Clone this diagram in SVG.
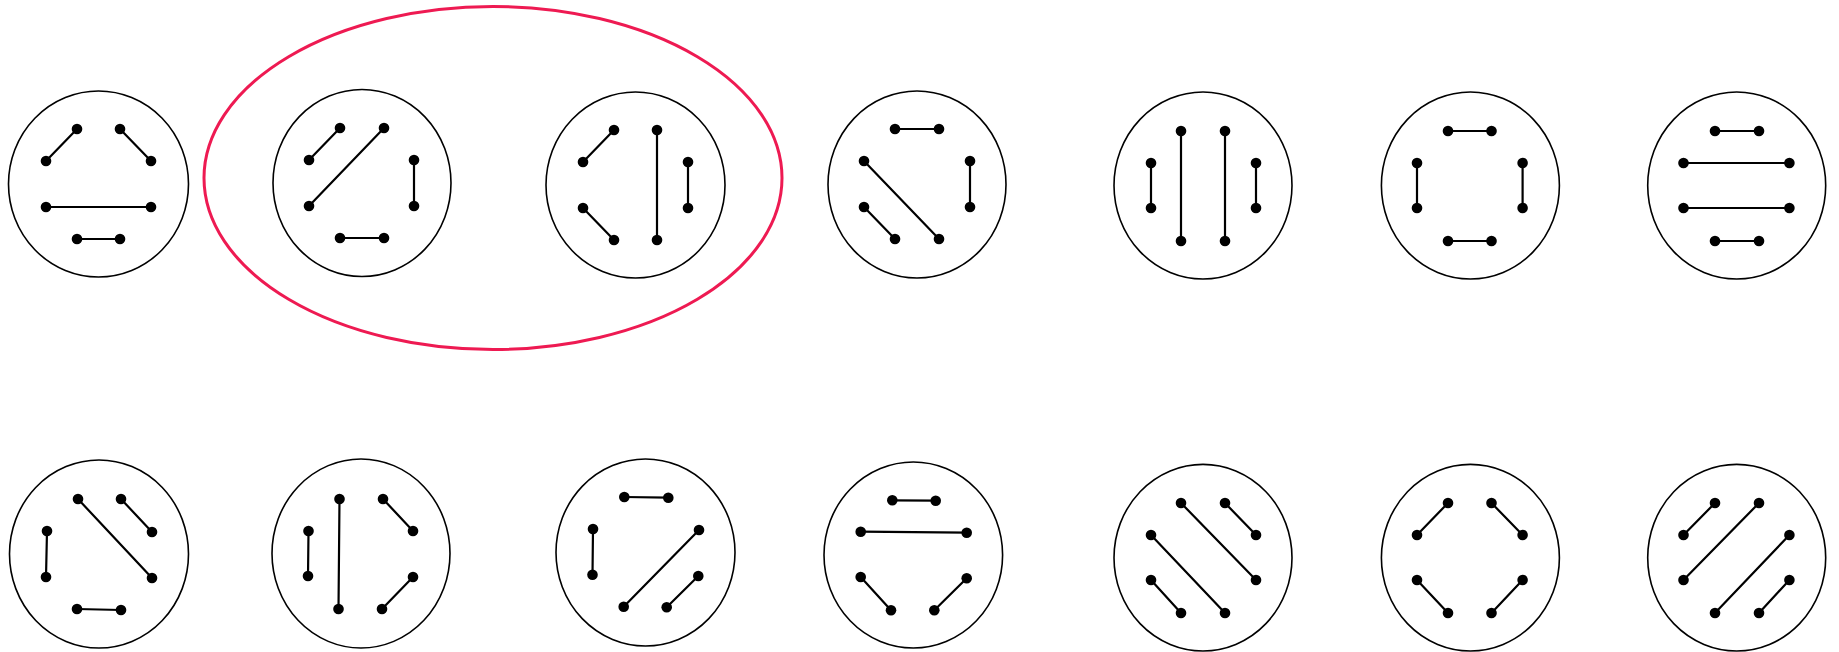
<svg xmlns="http://www.w3.org/2000/svg" width="1839" height="652" viewBox="0 0 1839 652">
<style>
.c{fill:none;stroke:#000;stroke-width:1.6}
.e{stroke:#000;stroke-width:2.2;stroke-linecap:round}
.d{fill:#000}
.g{fill:none;stroke:#ee1a52;stroke-width:3}
</style>
<rect width="1839" height="652" fill="#fff"/>
<g id="group-outline"><ellipse class="g" cx="493" cy="178" rx="289" ry="171.5"/></g>

<g id="n1">
<ellipse class="c" cx="98.5" cy="184" rx="90" ry="93"/>
<g class="connectors">
<line class="e" x1="46" y1="161" x2="77" y2="129"/><line class="e" x1="120" y1="129" x2="151" y2="161"/><line class="e" x1="46" y1="207" x2="151" y2="207"/><line class="e" x1="77" y1="239" x2="120" y2="239"/>
</g>
<g class="d"><circle cx="77" cy="129" r="5.3"/><circle cx="120" cy="129" r="5.3"/><circle cx="46" cy="161" r="5.3"/><circle cx="151" cy="161" r="5.3"/><circle cx="46" cy="207" r="5.3"/><circle cx="151" cy="207" r="5.3"/><circle cx="77" cy="239" r="5.3"/><circle cx="120" cy="239" r="5.3"/></g>
</g>

<g id="n2">
<ellipse class="c" cx="362" cy="183" rx="89" ry="93.5"/>
<g class="connectors">
<line class="e" x1="309" y1="160" x2="340" y2="128"/><line class="e" x1="309" y1="206" x2="384" y2="128"/><line class="e" x1="414" y1="160" x2="414" y2="206"/><line class="e" x1="340" y1="238" x2="384" y2="238"/>
</g>
<g class="d"><circle cx="340" cy="128" r="5.3"/><circle cx="384" cy="128" r="5.3"/><circle cx="309" cy="160" r="5.3"/><circle cx="414" cy="160" r="5.3"/><circle cx="309" cy="206" r="5.3"/><circle cx="414" cy="206" r="5.3"/><circle cx="340" cy="238" r="5.3"/><circle cx="384" cy="238" r="5.3"/></g>
</g>

<g id="n3">
<ellipse class="c" cx="635.5" cy="185" rx="89.5" ry="93"/>
<g class="connectors">
<line class="e" x1="583" y1="162" x2="614" y2="130"/><line class="e" x1="583" y1="208" x2="614" y2="240"/><line class="e" x1="657" y1="130" x2="657" y2="240"/><line class="e" x1="688" y1="162" x2="688" y2="208"/>
</g>
<g class="d"><circle cx="614" cy="130" r="5.3"/><circle cx="657" cy="130" r="5.3"/><circle cx="583" cy="162" r="5.3"/><circle cx="688" cy="162" r="5.3"/><circle cx="583" cy="208" r="5.3"/><circle cx="688" cy="208" r="5.3"/><circle cx="614" cy="240" r="5.3"/><circle cx="657" cy="240" r="5.3"/></g>
</g>

<g id="n4">
<ellipse class="c" cx="917" cy="184.5" rx="89" ry="93.5"/>
<g class="connectors">
<line class="e" x1="895" y1="129" x2="939" y2="129"/><line class="e" x1="864" y1="161" x2="939" y2="239"/><line class="e" x1="970" y1="161" x2="970" y2="207"/><line class="e" x1="864" y1="207" x2="895" y2="239"/>
</g>
<g class="d"><circle cx="895" cy="129" r="5.3"/><circle cx="939" cy="129" r="5.3"/><circle cx="864" cy="161" r="5.3"/><circle cx="970" cy="161" r="5.3"/><circle cx="864" cy="207" r="5.3"/><circle cx="970" cy="207" r="5.3"/><circle cx="895" cy="239" r="5.3"/><circle cx="939" cy="239" r="5.3"/></g>
</g>

<g id="n5">
<ellipse class="c" cx="1203" cy="185.5" rx="89" ry="93.5"/>
<g class="connectors">
<line class="e" x1="1151" y1="163" x2="1151" y2="208"/><line class="e" x1="1181" y1="131" x2="1181" y2="241"/><line class="e" x1="1225" y1="131" x2="1225" y2="241"/><line class="e" x1="1256" y1="163" x2="1256" y2="208"/>
</g>
<g class="d"><circle cx="1181" cy="131" r="5.3"/><circle cx="1225" cy="131" r="5.3"/><circle cx="1151" cy="163" r="5.3"/><circle cx="1256" cy="163" r="5.3"/><circle cx="1151" cy="208" r="5.3"/><circle cx="1256" cy="208" r="5.3"/><circle cx="1181" cy="241" r="5.3"/><circle cx="1225" cy="241" r="5.3"/></g>
</g>

<g id="n6">
<ellipse class="c" cx="1470.4" cy="185.5" rx="89" ry="93.5"/>
<g class="connectors">
<line class="e" x1="1448" y1="131" x2="1491.5" y2="131"/><line class="e" x1="1417" y1="163" x2="1417" y2="208"/><line class="e" x1="1522.6" y1="163" x2="1522.6" y2="208"/><line class="e" x1="1448" y1="241" x2="1491.5" y2="241"/>
</g>
<g class="d"><circle cx="1448" cy="131" r="5.3"/><circle cx="1491.5" cy="131" r="5.3"/><circle cx="1417" cy="163" r="5.3"/><circle cx="1522.6" cy="163" r="5.3"/><circle cx="1417" cy="208" r="5.3"/><circle cx="1522.6" cy="208" r="5.3"/><circle cx="1448" cy="241" r="5.3"/><circle cx="1491.5" cy="241" r="5.3"/></g>
</g>

<g id="n7">
<ellipse class="c" cx="1736.7" cy="185.5" rx="89" ry="93.5"/>
<g class="connectors">
<line class="e" x1="1715" y1="131" x2="1759" y2="131"/><line class="e" x1="1683.5" y1="163" x2="1789.4" y2="163"/><line class="e" x1="1683.5" y1="208" x2="1789.4" y2="208"/><line class="e" x1="1715" y1="241" x2="1759" y2="241"/>
</g>
<g class="d"><circle cx="1715" cy="131" r="5.3"/><circle cx="1759" cy="131" r="5.3"/><circle cx="1683.5" cy="163" r="5.3"/><circle cx="1789.4" cy="163" r="5.3"/><circle cx="1683.5" cy="208" r="5.3"/><circle cx="1789.4" cy="208" r="5.3"/><circle cx="1715" cy="241" r="5.3"/><circle cx="1759" cy="241" r="5.3"/></g>
</g>

<g id="n8">
<ellipse class="c" cx="99" cy="554" rx="89.5" ry="94"/>
<g class="connectors">
<line class="e" x1="47" y1="531" x2="46" y2="577"/><line class="e" x1="78" y1="499" x2="152" y2="578"/><line class="e" x1="121" y1="499" x2="152" y2="532"/><line class="e" x1="77" y1="609" x2="121" y2="610"/>
</g>
<g class="d"><circle cx="78" cy="499" r="5.3"/><circle cx="121" cy="499" r="5.3"/><circle cx="47" cy="531" r="5.3"/><circle cx="152" cy="532" r="5.3"/><circle cx="46" cy="577" r="5.3"/><circle cx="152" cy="578" r="5.3"/><circle cx="77" cy="609" r="5.3"/><circle cx="121" cy="610" r="5.3"/></g>
</g>

<g id="n9">
<ellipse class="c" cx="361" cy="553.5" rx="89" ry="94.5"/>
<g class="connectors">
<line class="e" x1="308.5" y1="531" x2="308" y2="576"/><line class="e" x1="339.5" y1="499" x2="338.5" y2="609"/><line class="e" x1="383" y1="499" x2="413" y2="531"/><line class="e" x1="413" y1="577" x2="382" y2="609"/>
</g>
<g class="d"><circle cx="339.5" cy="499" r="5.3"/><circle cx="383" cy="499" r="5.3"/><circle cx="308.5" cy="531" r="5.3"/><circle cx="413" cy="531" r="5.3"/><circle cx="308" cy="576" r="5.3"/><circle cx="413" cy="577" r="5.3"/><circle cx="338.5" cy="609" r="5.3"/><circle cx="382" cy="609" r="5.3"/></g>
</g>

<g id="n10">
<ellipse class="c" cx="645.5" cy="552.5" rx="89.5" ry="93.5"/>
<g class="connectors">
<line class="e" x1="624.3" y1="497" x2="668.3" y2="497.7"/><line class="e" x1="593" y1="529" x2="592.5" y2="574.7"/><line class="e" x1="699" y1="530" x2="623.7" y2="606.7"/><line class="e" x1="698.3" y1="576" x2="666.7" y2="607.3"/>
</g>
<g class="d"><circle cx="624.3" cy="497" r="5.3"/><circle cx="668.3" cy="497.7" r="5.3"/><circle cx="593" cy="529" r="5.3"/><circle cx="699" cy="530" r="5.3"/><circle cx="592.5" cy="574.7" r="5.3"/><circle cx="698.3" cy="576" r="5.3"/><circle cx="623.7" cy="606.7" r="5.3"/><circle cx="666.7" cy="607.3" r="5.3"/></g>
</g>

<g id="n11">
<ellipse class="c" cx="913.3" cy="555" rx="89.3" ry="93"/>
<g class="connectors">
<line class="e" x1="892.3" y1="500.3" x2="935.7" y2="500.7"/><line class="e" x1="860.7" y1="531.7" x2="966.7" y2="532.7"/><line class="e" x1="860.7" y1="577" x2="891" y2="610.3"/><line class="e" x1="966.7" y1="578.3" x2="934.3" y2="610.3"/>
</g>
<g class="d"><circle cx="892.3" cy="500.3" r="5.3"/><circle cx="935.7" cy="500.7" r="5.3"/><circle cx="860.7" cy="531.7" r="5.3"/><circle cx="966.7" cy="532.7" r="5.3"/><circle cx="860.7" cy="577" r="5.3"/><circle cx="966.7" cy="578.3" r="5.3"/><circle cx="891" cy="610.3" r="5.3"/><circle cx="934.3" cy="610.3" r="5.3"/></g>
</g>

<g id="n12">
<ellipse class="c" cx="1203" cy="557.7" rx="89" ry="93.3"/>
<g class="connectors">
<line class="e" x1="1181" y1="503" x2="1256" y2="580"/><line class="e" x1="1225" y1="503" x2="1256" y2="535"/><line class="e" x1="1151" y1="535" x2="1225" y2="613"/><line class="e" x1="1151" y1="580" x2="1181" y2="613"/>
</g>
<g class="d"><circle cx="1181" cy="503" r="5.3"/><circle cx="1225" cy="503" r="5.3"/><circle cx="1151" cy="535" r="5.3"/><circle cx="1256" cy="535" r="5.3"/><circle cx="1151" cy="580" r="5.3"/><circle cx="1256" cy="580" r="5.3"/><circle cx="1181" cy="613" r="5.3"/><circle cx="1225" cy="613" r="5.3"/></g>
</g>

<g id="n13">
<ellipse class="c" cx="1470.4" cy="557.7" rx="89" ry="93.3"/>
<g class="connectors">
<line class="e" x1="1417" y1="535" x2="1448" y2="503"/><line class="e" x1="1491.5" y1="503" x2="1522.6" y2="535"/><line class="e" x1="1417" y1="580" x2="1448" y2="613"/><line class="e" x1="1491.5" y1="613" x2="1522.6" y2="580"/>
</g>
<g class="d"><circle cx="1448" cy="503" r="5.3"/><circle cx="1491.5" cy="503" r="5.3"/><circle cx="1417" cy="535" r="5.3"/><circle cx="1522.6" cy="535" r="5.3"/><circle cx="1417" cy="580" r="5.3"/><circle cx="1522.6" cy="580" r="5.3"/><circle cx="1448" cy="613" r="5.3"/><circle cx="1491.5" cy="613" r="5.3"/></g>
</g>

<g id="n14">
<ellipse class="c" cx="1736.7" cy="557.7" rx="89" ry="93.3"/>
<g class="connectors">
<line class="e" x1="1683.5" y1="535" x2="1715" y2="503"/><line class="e" x1="1683.5" y1="580" x2="1759" y2="503"/><line class="e" x1="1715" y1="613" x2="1789.4" y2="535"/><line class="e" x1="1759" y1="613" x2="1789.4" y2="580"/>
</g>
<g class="d"><circle cx="1715" cy="503" r="5.3"/><circle cx="1759" cy="503" r="5.3"/><circle cx="1683.5" cy="535" r="5.3"/><circle cx="1789.4" cy="535" r="5.3"/><circle cx="1683.5" cy="580" r="5.3"/><circle cx="1789.4" cy="580" r="5.3"/><circle cx="1715" cy="613" r="5.3"/><circle cx="1759" cy="613" r="5.3"/></g>
</g>
</svg>
